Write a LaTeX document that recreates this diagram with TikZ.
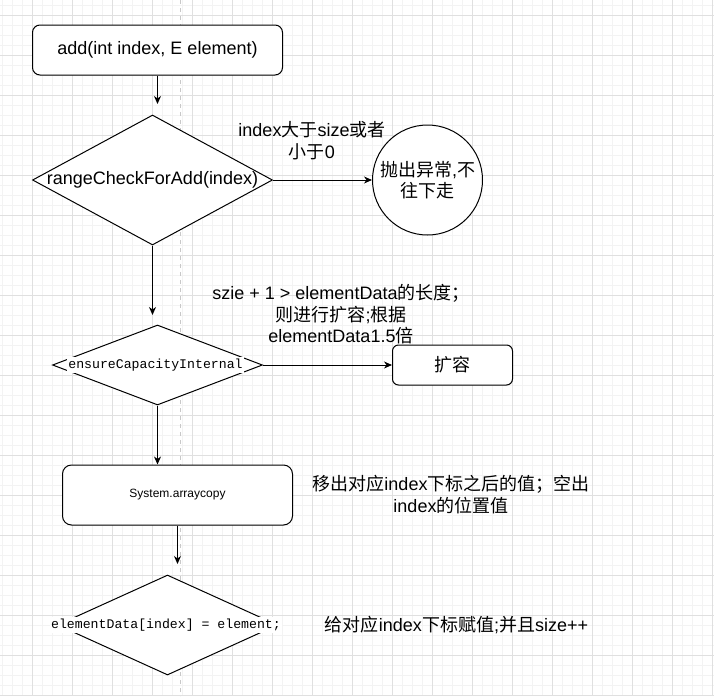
\documentclass[tikz,border=0pt]{standalone}
\usepackage{fontspec}
\setmainfont{Liberation Sans}
\newfontfamily\cjk{Noto Sans CJK SC}
\newfontfamily\monof{Liberation Mono}
\usetikzlibrary{shapes.geometric,arrows.meta}
\definecolor{minorgrid}{HTML}{F3F3F3}
\definecolor{majorgrid}{HTML}{E0E0E0}
\definecolor{pagebreak}{HTML}{C8C8C8}
\tikzset{
  minorline/.style={draw=minorgrid, line width=1pt},
  majorline/.style={draw=majorgrid, line width=1pt},
  boxnode/.style={draw, fill=white, line width=1pt, inner sep=0pt, font=\fontsize{18}{21.6}\selectfont},
  dianode/.style={draw, diamond, fill=white, line width=1pt, inner sep=0pt},
  lbl/.style={align=center, inner sep=0pt, font=\fontsize{18}{21.6}\selectfont},
  monolbl/.style={fill=white, inner sep=1.5pt, font=\monof\fontsize{13.2}{15}\selectfont},
  arr/.style={line width=1pt, -{Stealth[length=8pt,width=7pt,inset=2.5pt]}}
}
\begin{document}
\begin{tikzpicture}[x=1pt,y=-1pt]
\useasboundingbox (0,0) rectangle (714,696);
\fill[white] (0,0) rectangle (714,696);
% grid
\foreach \x in {2.5,12.5,...,712.5} \draw[minorline] (\x,0) -- (\x,696);
\foreach \y in {5,15,...,695} \draw[minorline] (0,\y) -- (714,\y);
\foreach \x in {32.5,72.5,...,712.5} \draw[majorline] (\x,0) -- (\x,696);
\foreach \y in {15,55,...,695} \draw[majorline] (0,\y) -- (714,\y);
% page break
\draw[pagebreak, line width=1pt, dash pattern=on 4pt off 4pt] (180,0) -- (180,696);

% nodes
\node[boxnode, rounded corners=7.5pt, minimum width=250pt, minimum height=50pt] (start) at (157.5,50) {add(int index, E element)};

\node[dianode, minimum width=240pt, minimum height=130pt] (d1) at (152.5,180) {};
\node[lbl] (d1t) at (d1) {rangeCheckForAdd(index)};

\node[circle, draw, fill=white, line width=1pt, minimum size=110pt, inner sep=0pt] (exc) at (427.5,180) {};
\node[lbl] (exct) at (exc) {{\cjk 抛出异常},{\cjk 不}\\{\cjk 往下走}};

\node[lbl] (l1) at (312,140.5) {index{\cjk 大于}size{\cjk 或者}\\{\cjk 小于}0};

\node[dianode, minimum width=210pt, minimum height=80pt] (d2) at (157.5,365) {};
\node[monolbl] (d2t) at (155.5,365) {ensureCapacityInternal};

\node[boxnode, rounded corners=6pt, minimum width=120pt, minimum height=40pt] (grow) at (452.5,365) {{\cjk 扩容}};

\node[lbl] (l2) at (341,314.5) {szie + 1 > elementData{\cjk 的长度；}\\{\cjk 则进行扩容};{\cjk 根据}\\elementData1.5{\cjk 倍}};

\node[boxnode, rounded corners=9pt, minimum width=230pt, minimum height=60pt, font=\fontsize{12}{14}\selectfont] (copy) at (177.5,495) {System.arraycopy};

\node[lbl] (l3) at (451,494.5) {{\cjk 移出对应}index{\cjk 下标之后的值；空出}\\index{\cjk 的位置值}};

\node[dianode, minimum width=220pt, minimum height=100pt] (d4) at (167.5,625) {};
\node[monolbl] (d4t) at (166,625) {elementData[index] = element;};

\node[lbl] (l4) at (456.5,625) {{\cjk 给对应}index{\cjk 下标赋值};{\cjk 并且}size++};

% connectors
\coordinate (a1) at (157.5,104);
\coordinate (a3) at (152.5,315);
\coordinate (a6) at (177.5,564);
\draw[arr] (start.south) -- (a1);
\draw[arr] (d1.east) -- (exc.west);
\draw[arr] (d1.south) -- (a3);
\draw[arr] (d2.east) -- (grow.west);
\draw[arr] (d2.south) -- (d2.south |- copy.north);
\draw[arr] (copy.south) -- (a6);
\end{tikzpicture}
\end{document}
